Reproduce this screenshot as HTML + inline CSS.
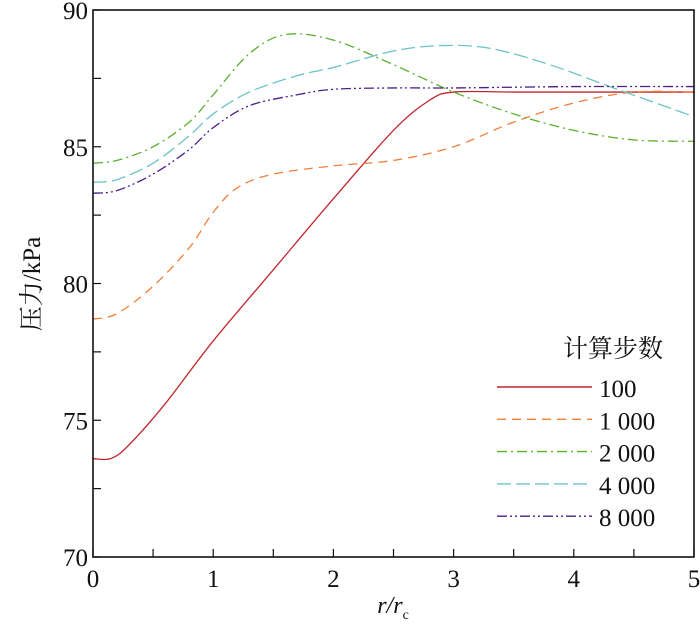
<!DOCTYPE html>
<html><head><meta charset="utf-8"><style>
body{margin:0;background:#fff}
text{font-family:"Liberation Serif","Noto Serif CJK SC",serif;fill:#111}
</style></head><body>
<svg id="c" width="700" height="624" xmlns="http://www.w3.org/2000/svg">
<g id="plot"></g>
<g id="axes"></g>
<g id="legend"></g>
</svg>
<script>
const xTicks=[0,1,2,3,4,5];
const yTicks=[70,75,80,85,90];
const seriesNames=["100","1 000","2 000","4 000","8 000"];
const xs100=[0,0.15,0.3,0.6,1,1.5,2,2.5,2.8,3,3.5,4,4.5,5];
const ys100=[73.6,73.6,74.1,75.6,77.9,80.5,83.1,85.6,86.7,87.0,87.0,87.0,87.0,87.0];
const xs1000=[0,0.2,0.5,0.8,1,1.2,1.5,2,2.5,3,3.5,4,4.5,5];
const ys1000=[78.7,78.9,79.9,81.3,82.6,83.5,84.0,84.3,84.5,85.0,85.9,86.6,87.0,87.0];
const xs2000=[0,0.2,0.5,0.8,1,1.3,1.6,2,2.5,3,3.5,4,4.5,5];
const ys2000=[84.4,84.5,85.0,85.9,86.9,88.4,89.1,88.9,88.0,87.0,86.2,85.6,85.25,85.2];
const xs4000=[0,0.2,0.5,0.8,1,1.3,1.7,2,2.5,2.9,3.3,3.8,4.3,5];
const ys4000=[83.7,83.8,84.4,85.4,86.2,87.0,87.6,87.9,88.5,88.7,88.6,88.0,87.2,86.1];
const xs8000=[0,0.2,0.5,0.8,1,1.3,1.7,2,2.5,3,4,5];
const ys8000=[83.3,83.4,84.0,84.9,85.7,86.5,86.9,87.1,87.15,87.15,87.2,87.2];
const L=93,R=694,T=10,B=557;
const X=v=>L+(v-0)/(5-0)*(R-L);
const Y=v=>B-(v-70)/(90-70)*(B-T);
const NS="http://www.w3.org/2000/svg";
function mk(tag,attrs,parent){const e=document.createElementNS(NS,tag);for(const k in attrs)e.setAttribute(k,attrs[k]);parent.appendChild(e);return e;}
const styles=[
 {c:"#c0272d",d:""},
 {c:"#f07f3c",d:"9 6"},
 {c:"#5aaf2e",d:"10 4 2 4"},
 {c:"#6cc3c8",d:"14 5"},
 {c:"#4b1f86",d:"10 3 2 3 2 3"}];
const data=[[xs100,ys100],[xs1000,ys1000],[xs2000,ys2000],[xs4000,ys4000],[xs8000,ys8000]];
function smooth(xs,ys){const p=xs.map((x,i)=>[X(x),Y(ys[i])]);let d="M"+p[0][0]+","+p[0][1];
 for(let i=0;i<p.length-1;i++){const p0=p[Math.max(0,i-1)],p1=p[i],p2=p[i+1],p3=p[Math.min(p.length-1,i+2)];
 const c1=[p1[0]+(p2[0]-p0[0])/6,p1[1]+(p2[1]-p0[1])/6],c2=[p2[0]-(p3[0]-p1[0])/6,p2[1]-(p3[1]-p1[1])/6];
 d+=` C${c1[0]},${c1[1]} ${c2[0]},${c2[1]} ${p2[0]},${p2[1]}`;}return d;}
const plot=document.getElementById('plot');
data.forEach((s,i)=>{const e=mk('path',{d:smooth(s[0],s[1]),fill:'none',stroke:styles[i].c,'stroke-width':1.3,'stroke-dasharray':styles[i].d},plot);

});
const ax=document.getElementById('axes');
const fr=mk('rect',{x:L,y:T,width:R-L,height:B-T,fill:'none',stroke:'#111','stroke-width':1.6},ax);


for(let v=0;v<=5;v+=0.5){const x=X(v);mk('line',{x1:x,x2:x,y1:B,y2:B-8,stroke:'#111','stroke-width':1.2},ax);}
for(let v=70;v<=90;v+=2.5){const y=Y(v);mk('line',{x1:L,x2:L+8,y1:y,y2:y,stroke:'#111','stroke-width':1.2},ax);}
xTicks.forEach(v=>{const t=mk('text',{x:X(v),y:B+30,'font-size':25,'text-anchor':'middle'},ax);t.textContent=v;

});
yTicks.forEach(v=>{const t=mk('text',{x:L-5,y:Y(v)+9,'font-size':25,'text-anchor':'end'},ax);t.textContent=v;

});
const xt=mk('text',{x:393,y:613,'font-size':24,'text-anchor':'middle','font-style':'italic'},ax);
xt.innerHTML='r/r<tspan font-size="14" dy="6" font-style="normal">c</tspan>';


const yt=mk('text',{x:0,y:0,'font-size':25,'text-anchor':'middle',transform:'translate(40,284) rotate(-90)'},ax);
yt.textContent='压力/kPa';


const lg=document.getElementById('legend');
const lt=mk('text',{x:613,y:357,'font-size':25,'text-anchor':'middle'},lg);lt.textContent='计算步数';


seriesNames.forEach((n,i)=>{const y=387+i*32.3;
 const ln=mk('line',{x1:497,x2:592,y1:y,y2:y,stroke:styles[i].c,'stroke-width':1.4,'stroke-dasharray':styles[i].d},lg);
 
 
 const t=mk('text',{x:599,y:y+10,'font-size':25},lg);t.textContent=n;
 
 });
</script>
</body></html>
